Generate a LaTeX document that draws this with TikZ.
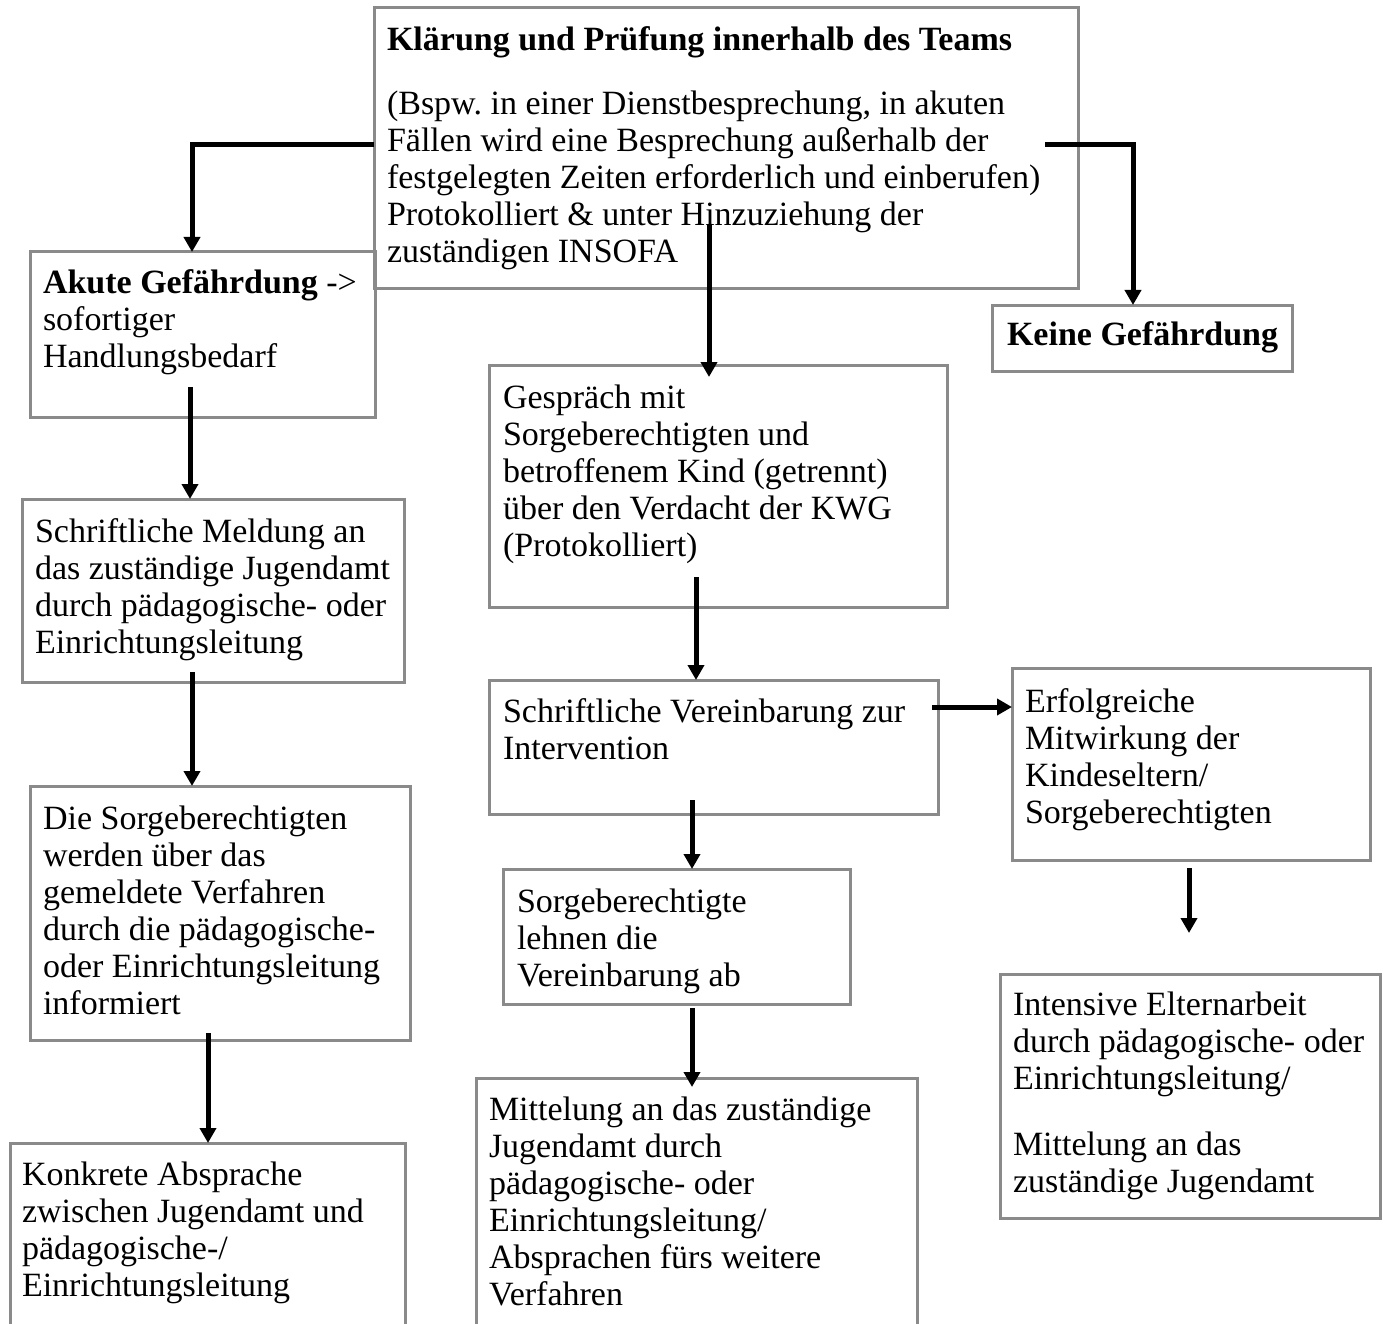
\documentclass[tikz,border=0pt]{standalone}
\usepackage{fontspec}
\setmainfont{Liberation Serif}
\usetikzlibrary{arrows.meta}
\definecolor{boxgray}{RGB}{138,138,138}
\frenchspacing
\tikzset{
  box/.style={draw=boxgray, line width=3pt, inner sep=0pt, outer sep=0pt, anchor=north west},
  txt/.style={anchor=base west, inner sep=0pt, outer sep=0pt, align=left, font=\fontsize{34}{37}\selectfont},
  arr/.style={line width=5pt, -{Triangle[width=16pt,length=15pt]}},
}
\begin{document}
\begin{tikzpicture}[x=1pt,y=-1pt]
\useasboundingbox (0,0) rectangle (1389,1324);
\clip (0,0) rectangle (1389,1324);
% boxes
\node[box, minimum width=704, minimum height=281] (T) at (374,8) {};
\node[box, minimum width=345, minimum height=165] (A) at (30,252) {};
\node[box, minimum width=300, minimum height=66] (K) at (992,305) {};
\node[box, minimum width=382, minimum height=183] (M) at (22,499) {};
\node[box, minimum width=380, minimum height=254] (S) at (30,786) {};
\node[box, minimum width=395, minimum height=220] (Kon) at (10,1143) {};
\node[box, minimum width=458, minimum height=242] (G) at (489,365) {};
\node[box, minimum width=449, minimum height=134] (V) at (489,680) {};
\node[box, minimum width=347, minimum height=135] (L) at (503,869) {};
\node[box, minimum width=441, minimum height=280] (Mi) at (476,1078) {};
\node[box, minimum width=358, minimum height=192] (E) at (1012,668) {};
\node[box, minimum width=380, minimum height=244] (I) at (1000,974) {};
% texts (anchor = baseline of the last line)
\node[txt] (tT) at (387,263) {\textbf{Klärung und Prüfung innerhalb des Teams}\\[27pt]
(Bspw. in einer Dienstbesprechung, in akuten\\ Fällen wird eine Besprechung außerhalb der\\
festgelegten Zeiten erforderlich und einberufen)\\ Protokolliert \& unter Hinzuziehung der\\ zuständigen INSOFA};
\node[txt] (tA) at (43,367) {\textbf{Akute Gefährdung} ->\\ sofortiger\\ Handlungsbedarf};
\node[txt] (tK) at (1007,345) {\textbf{Keine Gefährdung}};
\node[txt] (tM) at (35,653) {Schriftliche Meldung an\\ das zuständige Jugendamt\\ durch pädagogische- oder\\ Einrichtungsleitung};
\node[txt] (tS) at (43,1014) {Die Sorgeberechtigten\\ werden über das\\ gemeldete Verfahren\\ durch die pädagogische-\\ oder Einrichtungsleitung\\ informiert};
\node[txt] (tKon) at (22,1296) {Konkrete Absprache\\ zwischen Jugendamt und\\ pädagogische-/\\ Einrichtungsleitung};
\node[txt] (tG) at (503,556) {Gespräch mit\\ Sorgeberechtigten und\\ betroffenem Kind (getrennt)\\ über den Verdacht der KWG\\ (Protokolliert)};
\node[txt] (tV) at (503,759) {Schriftliche Vereinbarung zur\\ Intervention};
\node[txt] (tL) at (517,986) {Sorgeberechtigte\\ lehnen die\\ Vereinbarung ab};
\node[txt] (tMi) at (489,1305) {Mittelung an das zuständige\\ Jugendamt durch\\ pädagogische- oder\\ Einrichtungsleitung/\\ Absprachen fürs weitere\\ Verfahren};
\node[txt] (tE) at (1025,823) {Erfolgreiche\\ Mitwirkung der\\ Kindeseltern/\\ Sorgeberechtigten};
\node[txt] (tI) at (1013,1192) {Intensive Elternarbeit\\ durch pädagogische- oder\\ Einrichtungsleitung/\\[29pt] Mittelung an das\\ zuständige Jugendamt};
% connector start points
\coordinate (sTA) at (374,145);
\coordinate (sTK) at (1045,145);
\coordinate (sTG) at (709,225);
\coordinate (sAM) at (190,387);
\coordinate (sMS) at (192,672);
\coordinate (sSK) at (208,1033);
\coordinate (sGV) at (696,577);
\coordinate (sVE) at (932,707);
\coordinate (sVL) at (692,800);
\coordinate (sLM) at (692,1008);
\coordinate (sEI) at (1189,868);
\coordinate (eTG) at (709,377);
\coordinate (eLM) at (692,1087);
\coordinate (eEI) at (1189,933);
% connectors
\draw[arr] (sTA) -| ([xshift=-182pt]sTA |- A.north);
\draw[arr] (sTK) -| ([xshift=88pt]sTK |- K.north);
\draw[arr] (sTG) -- (eTG);
\draw[arr] (sAM) -- (sAM |- M.north);
\draw[arr] (sMS) -- (sMS |- S.north);
\draw[arr] (sSK) -- (sSK |- Kon.north);
\draw[arr] (sGV) -- (sGV |- V.north);
\draw[arr] (sVE) -- (sVE -| E.west);
\draw[arr] (sVL) -- (sVL |- L.north);
\draw[arr] (sLM) -- (eLM);
\draw[arr] (sEI) -- (eEI);
\end{tikzpicture}
\end{document}
